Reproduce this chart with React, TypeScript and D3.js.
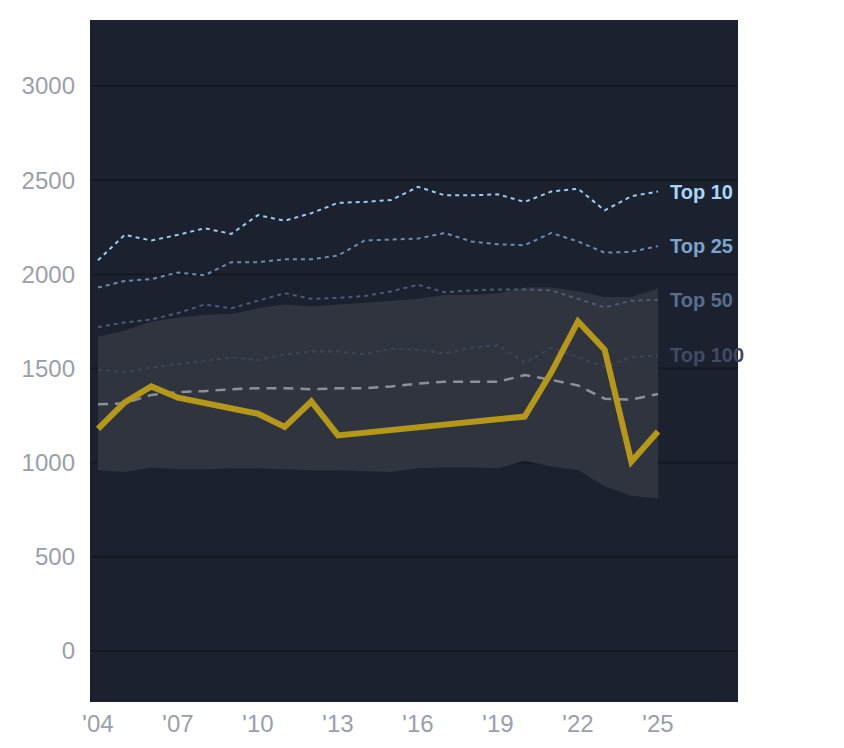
import React from "react";
import * as d3 from "d3";

const years = d3.range(2004, 2026);
const top10 = [2075, 2210, 2180, 2210, 2245, 2215, 2315, 2285, 2325, 2380, 2385, 2395, 2465, 2420, 2420, 2425, 2385, 2440, 2455, 2340, 2415, 2440];
const top25 = [1930, 1965, 1975, 2010, 1995, 2065, 2065, 2080, 2080, 2100, 2180, 2185, 2190, 2220, 2175, 2160, 2155, 2220, 2175, 2115, 2120, 2150];
const top50 = [1720, 1745, 1760, 1795, 1840, 1820, 1860, 1900, 1870, 1875, 1885, 1910, 1945, 1905, 1915, 1920, 1920, 1915, 1870, 1825, 1860, 1865];
const top100 = [1495, 1480, 1505, 1525, 1540, 1560, 1545, 1575, 1590, 1590, 1575, 1605, 1600, 1580, 1610, 1625, 1530, 1610, 1560, 1510, 1560, 1570];
const median = [1310, 1315, 1360, 1375, 1380, 1390, 1395, 1395, 1390, 1395, 1395, 1405, 1420, 1430, 1430, 1430, 1465, 1440, 1410, 1340, 1335, 1365];
const bandHigh = [1670, 1700, 1750, 1770, 1785, 1790, 1820, 1840, 1830, 1840, 1850, 1860, 1870, 1890, 1890, 1900, 1930, 1930, 1910, 1880, 1880, 1925];
const bandLow = [960, 950, 975, 965, 965, 970, 970, 965, 960, 960, 955, 950, 970, 975, 975, 970, 1010, 980, 960, 875, 825, 810];
const playerYears = [2004, 2005, 2006, 2007, 2010, 2011, 2012, 2013, 2020, 2021, 2022, 2023, 2024, 2025];
const playerValues = [1180, 1320, 1405, 1345, 1260, 1190, 1325, 1145, 1245, 1480, 1750, 1600, 1005, 1165];
const yTicks = [0, 500, 1000, 1500, 2000, 2500, 3000];
const xTicks = [2004, 2007, 2010, 2013, 2016, 2019, 2022, 2025];

const tiers = [
  { name: "Top 10", values: top10, color: "#9ccbef", label: "#a9d6f8" },
  { name: "Top 25", values: top25, color: "#6a8cb3", label: "#7ba5cc" },
  { name: "Top 50", values: top50, color: "#4b5b78", label: "#5a6d8c" },
  { name: "Top 100", values: top100, color: "#3a4559", label: "#3f4b62" },
];

export default function App() {
  const left = 90, right = 738, top = 20, bottom = 702;
  const x = d3.scaleLinear().domain([2003.7, 2028]).range([left, right]);
  const y = d3.scaleLinear().domain([-271, 3351]).range([bottom, top]);
  const line = d3.line<[number, number]>().x((d) => x(d[0])).y((d) => y(d[1]));
  const area = d3
    .area<number>()
    .x((_d, i) => x(years[i]))
    .y0((_d, i) => y(bandLow[i]))
    .y1((d) => y(d));
  const font = "Arial, 'Liberation Sans', sans-serif";

  return (
    <svg width={844} height={748} style={{ position: "absolute", left: 0, top: 0 }} fontFamily={font}>
      <rect x={left} y={top} width={right - left} height={bottom - top} fill="#1c2130" />
      {yTicks.map((t) => (
        <g key={t}>
          <line x1={left} x2={right} y1={y(t)} y2={y(t)} stroke="#141822" strokeWidth={2} />
          <text x={75} y={y(t)} dy="0.35em" textAnchor="end" fontSize={24} fill="#9aa0ab">{t}</text>
        </g>
      ))}
      {xTicks.map((t) => (
        <text key={t} x={x(t)} y={732} textAnchor="middle" fontSize={24} fill="#9aa0ab">
          {"'" + String(t).slice(2)}
        </text>
      ))}
      <path d={area(bandHigh) || ""} fill="#30343f" />
      {tiers.map((tier) => (
        <path key={tier.name} d={line(years.map((yr, i) => [yr, tier.values[i]])) || ""} fill="none"
          stroke={tier.color} strokeWidth={2} strokeDasharray="4,4" />
      ))}
      <path d={line(years.map((yr, i) => [yr, median[i]])) || ""} fill="none" stroke="#8b909a" strokeWidth={2.5} strokeDasharray="10,7" />
      <path d={line(playerYears.map((yr, i) => [yr, playerValues[i]])) || ""} fill="none" stroke="#b5971a" strokeWidth={6} strokeLinejoin="miter" />
      {tiers.map((tier) => (
        <text key={tier.name} x={x(2025) + 12} y={y(tier.values[tier.values.length - 1])} dy="0.35em"
          fontSize={20} fontWeight="bold" fill={tier.label}>{tier.name}</text>
      ))}
    </svg>
  );
}
